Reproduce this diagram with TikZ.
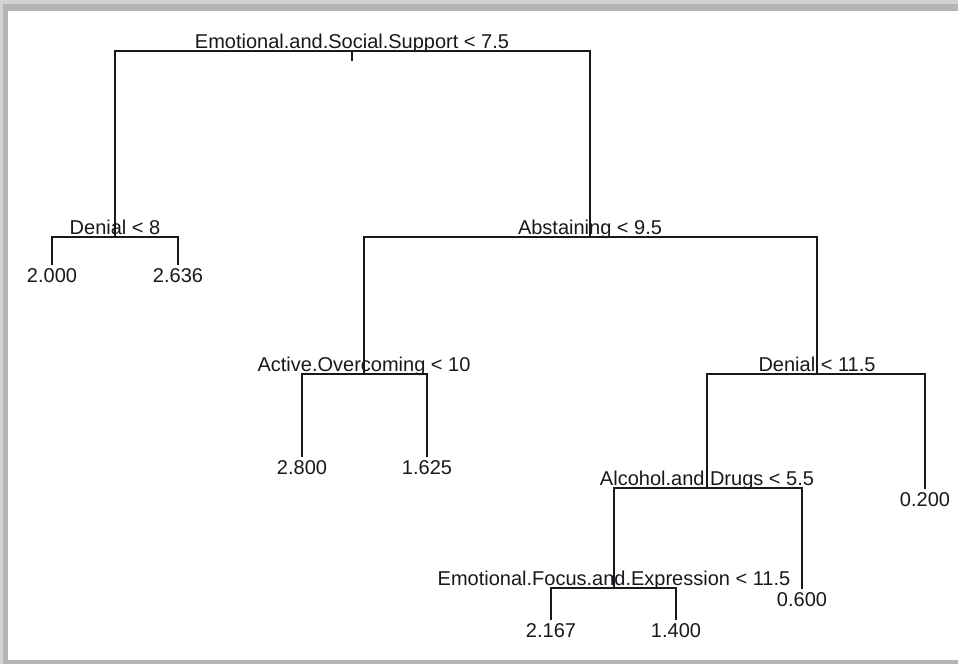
\documentclass[tikz,border=0pt]{standalone}
\usepackage{fontspec}
\setmainfont{Liberation Sans}
\usepackage{tikz}
\definecolor{framelight}{RGB}{210, 210, 210}
\definecolor{framedark}{RGB}{180, 180, 180}
\definecolor{inkdark}{RGB}{24, 24, 30}
\usetikzlibrary{
  calc,
  positioning,
}
\tikzset{
  branch/.style={draw=inkdark,line width=1.1pt},
  splitlbl/.style={anchor=base,inner sep=0,yshift=3pt,font=\fontsize{20}{22}\selectfont,text=inkdark},
  leaflbl/.style={anchor=north,inner sep=0,yshift=-3pt,font=\fontsize{20}{22}\selectfont,text=inkdark},
}

\begin{document}
\begin{tikzpicture}[x=1pt,y=-1pt]
      \useasboundingbox (0,0) rectangle (958,664);
      \fill[white] (0,0) rectangle (958,664);
      \fill[framelight] (0,0) rectangle (958,4);
      \fill[framedark] (8,4) rectangle (958,11);
      \fill[framelight] (0,0) rectangle (3,664);
      \fill[framedark] (3,4) rectangle (8,664);
      \fill[framedark] (8,660) rectangle (958,664);

      \coordinate (root) at (352,51);
      \coordinate (n2)  at (115,237);
      \coordinate (n3)  at (590,237);
      \coordinate (n6)  at (364,374);
      \coordinate (n7)  at (817,374);
      \coordinate (n14) at (707,488);
      \coordinate (n28) at (614,588);
      \coordinate (l4)  at (52,265);
      \coordinate (l5)  at (178,265);
      \coordinate (l12) at (302,457);
      \coordinate (l13) at (427,457);
      \coordinate (l15) at (925,489);
      \coordinate (l29) at (802,589);
      \coordinate (l56) at (551,620);
      \coordinate (l57) at (676,620);
      \coordinate (stub) at (352,61);

      \draw[branch] (root) -- (stub);
      \foreach \p/\c in {root/n2,root/n3,n2/l4,n2/l5,n3/n6,n3/n7,n6/l12,n6/l13,
                         n7/n14,n7/l15,n14/n28,n14/l29,n28/l56,n28/l57}
        \draw[branch] (\p) -| (\c);

      \node[splitlbl] (s1)  at (root) {Emotional.and.Social.Support < 7.5};
      \node[splitlbl] (s2)  at (n2)   {Denial < 8};
      \node[splitlbl] (s3)  at (n3)   {Abstaining < 9.5};
      \node[splitlbl] (s6)  at (n6)   {Active.Overcoming < 10};
      \node[splitlbl] (s7)  at (n7)   {Denial < 11.5};
      \node[splitlbl] (s14) at (n14)  {Alcohol.and.Drugs < 5.5};
      \node[splitlbl] (s28) at (n28)  {Emotional.Focus.and.Expression < 11.5};

      \node[leaflbl] (v4)  at (l4)  {2.000};
      \node[leaflbl] (v5)  at (l5)  {2.636};
      \node[leaflbl] (v12) at (l12) {2.800};
      \node[leaflbl] (v13) at (l13) {1.625};
      \node[leaflbl] (v15) at (l15) {0.200};
      \node[leaflbl] (v29) at (l29) {0.600};
      \node[leaflbl] (v56) at (l56) {2.167};
      \node[leaflbl] (v57) at (l57) {1.400};
    \end{tikzpicture}
\end{document}
